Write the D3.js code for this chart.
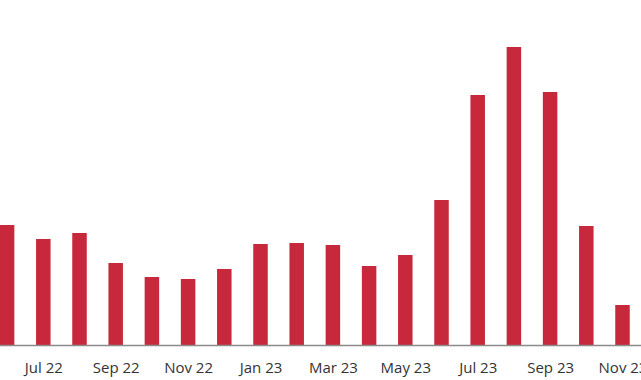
<!DOCTYPE html>
<html>
<head>
<meta charset="utf-8">
<script src="https://cdn.jsdelivr.net/npm/d3@7"></script>
<style>
  html, body { margin: 0; padding: 0; background: #fff; }
  svg { display: block; }
</style>
</head>
<body>
<svg id="chart" width="641" height="380"></svg>
<script>
// Months shown as bars (Jun 22 .. Nov 23)
const months = ["Jun 22","Jul 22","Aug 22","Sep 22","Oct 22","Nov 22","Dec 22",
                "Jan 23","Feb 23","Mar 23","Apr 23","May 23","Jun 23","Jul 23",
                "Aug 23","Sep 23","Oct 23","Nov 23"];
const values = [120, 106, 112, 82, 68, 66, 76, 101, 102, 100, 79, 90, 145, 250, 298, 253, 119, 40];
// Tick labels (every other month), positioned by month index relative to Jun 22
const tickIndex = [-1, 1, 3, 5, 7, 9, 11, 13, 15, 17];
const tickLabels = ["May 22","Jul 22","Sep 22","Nov 22","Jan 23","Mar 23","May 23","Jul 23","Sep 23","Nov 23"];

const svg = d3.select("#chart");
const W = 641, H = 380;
const baseY = 345;

const x = d3.scaleLinear().domain([0, months.length - 1]).range([7.1, 622.5]);
const barW = 14.5;
const y = d3.scaleLinear().domain([0, 300]).range([baseY, baseY - 300]);

svg.append("g")
  .selectAll("rect")
  .data(values)
  .join("rect")
  .attr("x", (d, i) => x(i) - barW / 2)
  .attr("width", barW)
  .attr("y", d => y(d))
  .attr("height", d => y(0) - y(d))
  .attr("fill", "#c8283c");

const labelMap = new Map(tickIndex.map((t, i) => [t, tickLabels[i]]));
const axis = d3.axisBottom(x)
  .tickValues(tickIndex)
  .tickFormat(d => labelMap.get(d))
  .tickSize(0)
  .tickPadding(17);

const g = svg.append("g")
  .attr("transform", `translate(0,${baseY})`)
  .call(axis);
g.select(".domain").remove();
g.append("line")
  .attr("x1", 0).attr("x2", W)
  .attr("y1", 0.5).attr("y2", 0.5)
  .attr("stroke", "#8a8a8a")
  .attr("stroke-width", 1.5);
g.selectAll("text")
  .attr("font-family", "'Open Sans', sans-serif")
  .attr("font-size", 15)
  .attr("fill", "#333");
</script>
</body>
</html>
